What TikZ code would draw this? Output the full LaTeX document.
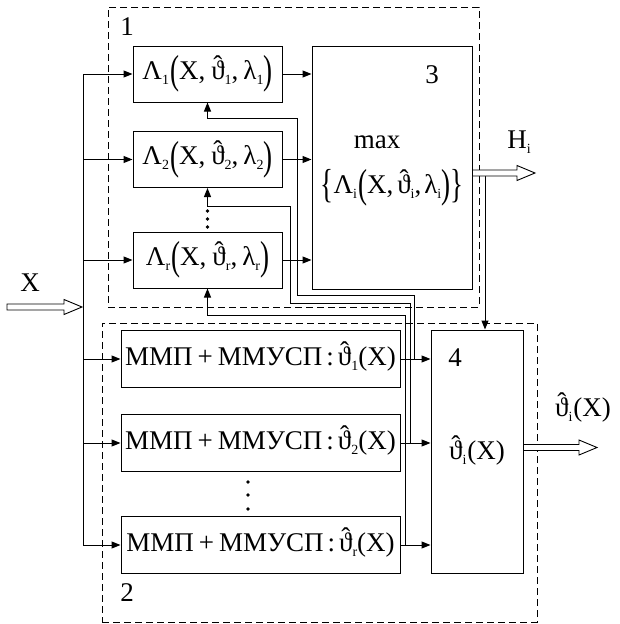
\documentclass[tikz,border=0pt]{standalone}
\usepackage{fontspec}
\setmainfont{Liberation Serif}
\usepackage{graphicx}
\usetikzlibrary{arrows.meta,calc}
\newcommand\sbs[1]{\raisebox{-0.4ex}{\fontsize{14}{14}\selectfont #1}}
\newcommand\tht{\hbox{\ooalign{ϑ\cr\hidewidth\raisebox{0.2em}{ˆ}\hidewidth\cr}}}
\newcommand\bp[1]{\raisebox{-0.16em}{\scalebox{1}[1.5]{#1}}}
\newcommand\lamtxt[1]{Λ\sbs{#1}\kern1pt\bp{(}X,\kern6pt\tht\sbs{#1},\kern5pt λ\sbs{#1}\bp{)}}
\newcommand\mmptxt[1]{ММП\kern5pt+\kern5ptММУСП\kern4pt:\kern4pt\tht\sbs{#1}(X)}
\newcommand\fatarr[2]{\draw[fat] ($(#1)+(0,-3)$) -- ($(#2)+(-18,-3)$) -- ($(#2)+(-18,-7.5)$) -- (#2) -- ($(#2)+(-18,7.5)$) -- ($(#2)+(-18,3)$) -- ($(#1)+(0,3)$) -- cycle;}
\begin{document}
\begin{tikzpicture}[x=1pt,y=-1pt, font=\fontsize{27}{31}\selectfont,
  box/.style={draw,line width=1pt,inner sep=0pt},
  frame/.style={draw,line width=1pt,dash pattern=on 7pt off 4pt,inner sep=0pt},
  arr/.style={line width=1pt,-{Triangle[length=9pt,width=7pt]}},
  ln/.style={line width=1pt},
  fat/.style={draw,line width=0.9pt,fill=white},
  lbl/.style={inner sep=0pt}]
\useasboundingbox (0,0) rectangle (619,624);
% dashed frames
\node[frame,minimum width=371pt,minimum height=300pt] (fr1) at (293.5,157) {};
\node[frame,minimum width=435pt,minimum height=299pt] (fr2) at (319.5,472.5) {};
\node[lbl] (n1) at (127,27) {1};
\node[lbl] (n2) at (127,593) {2};
% Lambda boxes
\node[box,minimum width=149pt,minimum height=56pt] (L1) at (207.5,74) {\lamtxt{1}};
\node[box,minimum width=149pt,minimum height=56pt] (L2) at (207.5,159.5) {\lamtxt{2}};
\node[box,minimum width=149pt,minimum height=56pt] (Lr) at (207.5,260) {\lamtxt{r}};
% box 3
\node[box,minimum width=160pt,minimum height=243pt] (B3) at (392,167.5) {};
\node[lbl] (n3) at (432,75) {3};
\node[lbl] (mx) at (377,142) {max};
\node[lbl] (br) at (392,188) {\bp{\{}Λ\sbs{i}\kern1pt\bp{(}X,\kern4pt\tht\sbs{i},\kern3pt λ\sbs{i}\bp{)}\bp{\}}};
% MMP boxes
\node[box,minimum width=279pt,minimum height=57pt] (M1) at (260.5,359) {\mmptxt{1}};
\node[box,minimum width=279pt,minimum height=57pt] (M2) at (260.5,443) {\mmptxt{2}};
\node[box,minimum width=279pt,minimum height=57pt] (Mr) at (260.5,545) {\mmptxt{r}};
% box 4
\node[box,minimum width=92pt,minimum height=243pt] (B4) at (477,451.5) {};
\node[lbl] (n4) at (455,358) {4};
\node[lbl] (th) at (477,453) {\tht\sbs{i}\kern1pt(X)};
% labels
\node[lbl] (lx) at (30,283) {X};
\node[lbl] (lh) at (519,142) {H\sbs{i}};
\node[lbl] (lt) at (583,410) {\tht\sbs{i}\kern1pt(X)};
% dots
\foreach \yy in {211,219,227} \fill (207.5,\yy) circle (1.8pt);
\foreach \yy in {482,495,509} \fill (248,\yy) circle (1.8pt);
% input bus
\coordinate (bus) at (83,0);
\draw[ln] (L1.west -| bus) -- (Mr.west -| bus);
\foreach \n in {L1,L2,Lr,M1,M2,Mr} \draw[arr] (\n.west -| bus) -- (\n.west);
\foreach \n in {L1,L2,Lr} \draw[arr] (\n.east) -- (\n.east -| B3.west);
\foreach \n in {M1,M2,Mr} \draw[arr] (\n.east) -- (\n.east -| B4.west);
% feedback
\draw[arr] ($(M1.east)+(14,0)$) |- (297,295) |- ($(L1.south)+(0,16)$) -- (L1.south);
\draw[arr] ($(M2.east)+(10,0)$) |- (290,303) |- ($(L2.south)+(0,18)$) -- (L2.south);
\draw[arr] ($(Mr.east)+(5,0)$) |- ($(Lr.south)+(0,27)$) -- (Lr.south);
% H to box 4
\coordinate (hd) at (485,173);
\draw[arr] (hd) -- (hd |- B4.north);
% fat arrows
\coordinate (xs) at (7,307); \coordinate (xe) at (82,307);
\fatarr{xs}{xe}
\coordinate (hs) at ($(B3.east)+(0,5.5)$); \coordinate (he) at (535,173);
\fatarr{hs}{he}
\coordinate (ts) at ($(B4.east)+(0,-4)$); \coordinate (te) at (597,447.5);
\fatarr{ts}{te}
\end{tikzpicture}
\end{document}
